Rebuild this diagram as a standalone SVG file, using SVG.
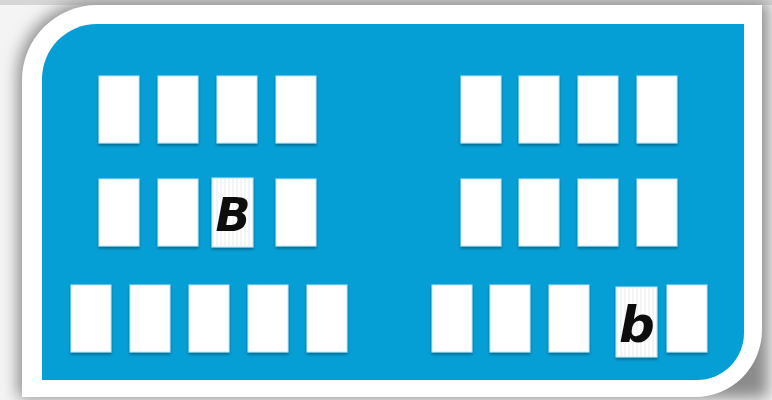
<svg xmlns="http://www.w3.org/2000/svg" width="772" height="400" viewBox="0 0 772 400">
  <defs>
    <filter id="outerShadow" x="-10%" y="-10%" width="120%" height="120%">
      <feGaussianBlur stdDeviation="8"/>
    </filter>
    <filter id="cardShadow" x="-30%" y="-20%" width="160%" height="140%">
      <feGaussianBlur in="SourceAlpha" stdDeviation="1.6"/>
      <feOffset dx="0" dy="2" result="b"/>
      <feComponentTransfer><feFuncA type="linear" slope="0.35"/></feComponentTransfer>
      <feMerge><feMergeNode/><feMergeNode in="SourceGraphic"/></feMerge>
    </filter>
    <pattern id="lined" width="4" height="10" patternUnits="userSpaceOnUse">
      <rect width="4" height="10" fill="#ffffff"/>
      <line x1="1" y1="0" x2="1" y2="10" stroke="#e4e4e8" stroke-width="0.8"/>
    </pattern>
  </defs>
  <style>
    .card { fill: #ffffff; stroke: #bfe6f5; stroke-width: 1; }
    .lined { fill: url(#lined); stroke: #bfe6f5; stroke-width: 1; }
    .letter { font-family: "DejaVu Sans", "Liberation Sans", sans-serif; font-weight: bold; font-style: oblique; fill: #111111; text-anchor: middle; }
  </style>

  <rect x="0" y="0" width="772" height="400" fill="#f4f4f4"/>
  <rect x="0" y="0" width="772" height="5" fill="#d6d6d6"/>
  <!-- shadow -->
  <path d="M95 2 H768 V398 H690 L18 398 V77 A75 75 0 0 1 95 2 Z" fill="#8a8a8a" filter="url(#outerShadow)"/>
  <!-- white frame -->
  <path d="M97 5 H762 V330 A67 67 0 0 1 695 397 H22 V80 A75 75 0 0 1 97 5 Z" fill="#ffffff"/>
  <!-- blue panel -->
  <path d="M97 24 H744 V333 A47 47 0 0 1 697 380 H42 V79 A55 55 0 0 1 97 24 Z" fill="#069fd5"/>

  <g id="cards" filter="url(#cardShadow)">
    <!-- row 1 left -->
    <g id="r1l1"><rect class="card" x="99" y="76" width="40" height="67"/></g>
    <g id="r1l2"><rect class="card" x="158" y="76" width="40" height="67"/></g>
    <g id="r1l3"><rect class="card" x="217" y="76" width="40" height="67"/></g>
    <g id="r1l4"><rect class="card" x="276" y="76" width="40" height="67"/></g>
    <!-- row 1 right -->
    <g id="r1r1"><rect class="card" x="461" y="76" width="40" height="67"/></g>
    <g id="r1r2"><rect class="card" x="519" y="76" width="40" height="67"/></g>
    <g id="r1r3"><rect class="card" x="578" y="76" width="40" height="67"/></g>
    <g id="r1r4"><rect class="card" x="637" y="76" width="40" height="67"/></g>
    <!-- row 2 left -->
    <g id="r2l1"><rect class="card" x="99" y="179" width="40" height="67"/></g>
    <g id="r2l2"><rect class="card" x="158" y="179" width="40" height="67"/></g>
    <g id="cardB"><rect class="lined" x="212" y="178" width="41" height="69"/>
      <text class="letter" x="233" y="231" font-size="46">B</text></g>
    <g id="r2l4"><rect class="card" x="276" y="179" width="40" height="67"/></g>
    <!-- row 2 right -->
    <g id="r2r1"><rect class="card" x="461" y="179" width="40" height="67"/></g>
    <g id="r2r2"><rect class="card" x="519" y="179" width="40" height="67"/></g>
    <g id="r2r3"><rect class="card" x="578" y="179" width="40" height="67"/></g>
    <g id="r2r4"><rect class="card" x="637" y="179" width="40" height="67"/></g>
    <!-- row 3 left -->
    <g id="r3l1"><rect class="card" x="71" y="285" width="40" height="67"/></g>
    <g id="r3l2"><rect class="card" x="130" y="285" width="40" height="67"/></g>
    <g id="r3l3"><rect class="card" x="189" y="285" width="40" height="67"/></g>
    <g id="r3l4"><rect class="card" x="248" y="285" width="40" height="67"/></g>
    <g id="r3l5"><rect class="card" x="307" y="285" width="40" height="67"/></g>
    <!-- row 3 right -->
    <g id="r3r1"><rect class="card" x="432" y="285" width="40" height="67"/></g>
    <g id="r3r2"><rect class="card" x="490" y="285" width="40" height="67"/></g>
    <g id="r3r3"><rect class="card" x="549" y="285" width="40" height="67"/></g>
    <g id="cardb"><rect class="lined" x="616" y="287" width="41" height="70"/>
      <text class="letter" x="637" y="342" font-size="50">b</text></g>
    <g id="r3r5"><rect class="card" x="667" y="285" width="40" height="67"/></g>
  </g>
  <g id="connectors"/>
</svg>
